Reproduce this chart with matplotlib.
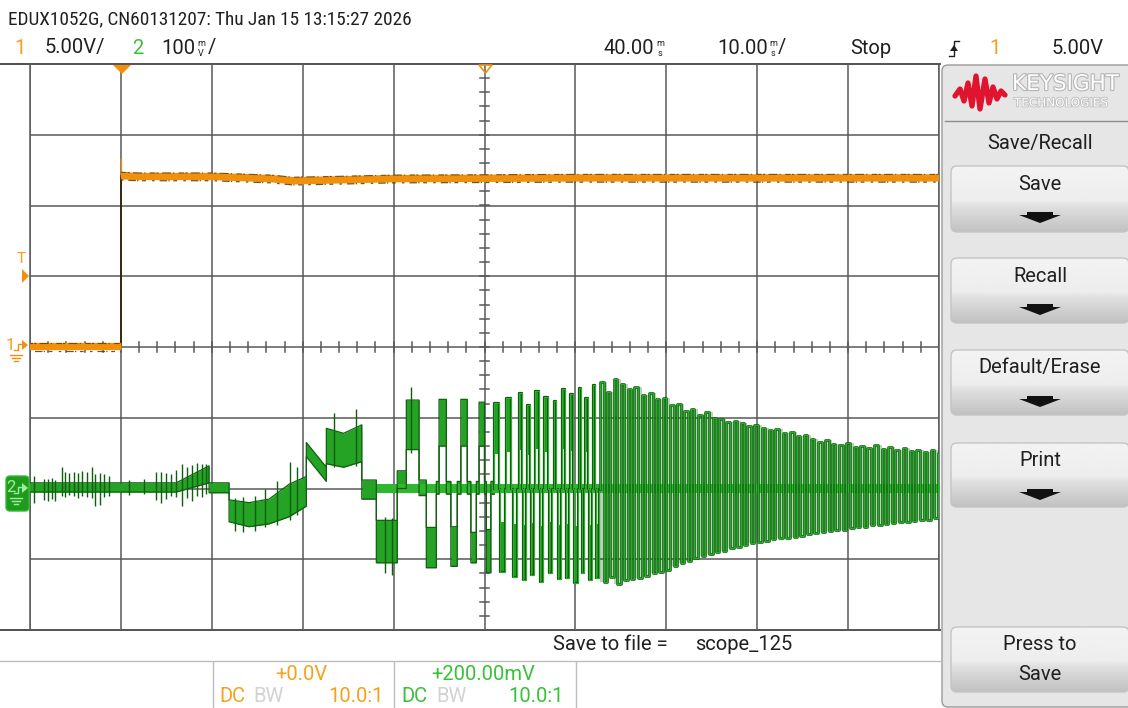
import numpy as np
import matplotlib
matplotlib.use('Agg')
import matplotlib.pyplot as plt
from matplotlib.patches import FancyBboxPatch, Polygon
import matplotlib.patheffects as pe

plt.rcParams['font.family'] = ['Roboto', 'DejaVu Sans']
NARROW = ['Roboto Condensed', 'DejaVu Sans']

W, H = 1128, 708

# scope settings
ch1_scale = 5.0       # V/div
ch2_scale = 100.0     # mV/div
ch2_offset = 200.0    # mV
t_scale = 10.0        # ms/div
t_delay = 40.0        # ms

# channel 1 (V)
ch1_low_t = [-10.3, 0.0]
ch1_low_v = [0.05, 0.05]
ch1_high_t = [0.0, 2.0, 10.0, 16.5, 19.0, 23.0, 30.0, 50.0, 70.0, 90.3]
ch1_high_v = [12.1, 12.05, 12.05, 11.9, 11.75, 11.8, 11.9, 11.95, 11.95, 11.95]
ch1_step_t = 0.0
ch1_overshoot = 13.3

# channel 2 (mV) - band of the trace, repeated times are jumps
band_t = [-10.3, 6.1, 9.7, 9.7, 11.9, 11.9, 14.1, 16.3, 18.5, 20.4, 20.4, 22.6,
          22.6, 24.5, 26.5, 26.5, 28.1, 28.1, 30.4, 30.4, 31.4, 31.4, 32.8,
          32.8, 33.6, 33.6, 34.7, 34.7, 35.0, 35.0, 35.8, 35.8, 36.3, 36.3,
          37.0, 37.0, 37.4, 37.4, 38.1, 38.1, 38.5, 38.5, 39.1, 39.1, 39.4,
          39.4, 40.0, 40.0, 40.2, 40.2, 40.7, 40.7, 41.1]
band_lo = [-5, -5, 8, -6, -6, -47, -54, -50, -40, -25, 45, 10,
           35, 30, 38, -15, -15, -105, -105, 0, 0, 55, 55,
           -10, -10, -112, -112, -8, -8, 60, 60, -8, -8, -110,
           -110, -8, -8, 60, 60, -8, -8, -105, -105, -8, -8,
           60, 60, -8, -8, -119, -119, -8, -8]
band_hi = [8, 8, 32, 8, 8, -16, -20, -15, 6, 17, 65, 30,
           85, 78, 90, 12, 12, -45, -45, 25, 25, 125, 125,
           12, 12, -55, -55, 10, 10, 126, 126, 10, 10, -54,
           -54, 10, 10, 126, 126, 10, 10, -62, -62, 10, 10,
           122, 122, 10, 10, -58, -58, 10, 10]

# noise spikes on channel 2 (mV)
spk_t = [-9.6, -8.5, -8.0, -7.6, -7.2, -6.5, -6.1, -5.7, -5.2, -4.7, -4.3,
         -3.7, -3.2, -2.8, -2.3, -1.9, -1.3, 0.9, 2.5, 3.9, 4.4, 5.0, 5.5,
         6.1, 6.7, 7.3, 7.8, 8.4, 8.9, 9.4, 12.6, 13.4, 14.7, 15.9, 17.2,
         18.6, 19.4, 23.4, 25.9, 29.0, 29.8, 31.9]
spk_lo = [-20, -16, -18, -15, -17, -10, -12, -9, -11, -13, -10,
          -12, -14, -25, -24, -12, -10, -9, -8, -16, -20, -15, -10,
          -12, -25, -14, -18, -10, -12, -8, -60, -62, -60, -55, -52,
          -45, -38, 30, 32, -120, -122, 50]
spk_hi = [17, 14, 14, 15, 12, 30, 23, 22, 24, 22, 25,
          24, 30, 20, 22, 20, 18, 12, 14, 24, 24, 22, 20,
          26, 34, 30, 33, 36, 34, 35, -14, -12, -10, 0, 10,
          38, 30, 107, 112, -40, -42, 143]

# oscillation, three-level cycles (rise time ms, top mV, bottom mV)
cyc3_t = [41.1, 42.4, 43.8, 44.7, 45.6, 46.6, 47.6, 48.5, 49.4, 50.4, 51.1, 51.9]
cyc3_hi = [121, 128, 135, 118, 138, 130, 124, 140, 133, 142, 128, 146]
cyc3_lo = [-118, -125, -130, -122, -132, -120, -128, -126, -134, -120, -130, -127]

# oscillation, full swing cycles
cyc_t = [52.7, 53.5, 54.2, 55.0, 55.8, 56.5, 57.3, 58.1, 58.9, 59.6,
         60.4, 61.2, 62.0, 62.7, 63.5, 64.3, 65.1, 65.8, 66.6, 67.4, 68.2,
         68.9, 69.7, 70.5, 71.3, 72.0, 72.8, 73.6, 74.4, 75.1, 75.9, 76.7,
         77.5, 78.2, 79.0, 79.8, 80.6, 81.3, 82.1, 82.9, 83.7, 84.4, 85.2,
         86.0, 86.8, 87.5, 88.3, 89.1, 89.9]
cyc_hi = [150, 136, 155, 148, 140, 144, 132, 135, 126, 128,
          118, 120, 110, 112, 104, 108, 100, 98, 94, 96, 92,
          88, 90, 85, 82, 84, 78, 80, 74, 76, 70, 66,
          68, 63, 62, 64, 58, 60, 57, 62, 56, 58, 55,
          57, 53, 54, 51, 55, 50]
cyc_lo = [-132, -125, -135, -130, -128, -126, -124, -120, -118, -115,
          -110, -105, -102, -98, -96, -92, -90, -88, -84, -82, -80,
          -77, -75, -74, -72, -70, -70, -68, -67, -65, -63, -62,
          -60, -58, -58, -56, -55, -54, -52, -51, -50, -49, -48,
          -48, -46, -45, -44, -42, -40]
zero_t = [28.1, 90.3]
zero_lo = [-6, -6]
zero_hi = [6, 6]

ORANGE_TXT = '#f5a11c'
ORANGE = '#f0900c'
ORANGE_DK = '#5a3800'
GREEN_TXT = '#36c236'
GREEN = '#24a324'
GREEN_DK = '#0f5f0f'
GRID = '#595959'
TXT = '#202020'

fig = plt.figure(figsize=(W / 100, H / 100), dpi=100)
fig.patch.set_facecolor('white')


def rect(x0, y0, x1, y1):
    return [x0 / W, 1 - y1 / H, (x1 - x0) / W, (y1 - y0) / H]


# background / panel layer in pixel coords
bg = fig.add_axes([0, 0, 1, 1])
bg.set_xlim(0, W)
bg.set_ylim(H, 0)
bg.axis('off')

panel = FancyBboxPatch((942, 65), 200, 642, boxstyle='round,pad=0,rounding_size=6',
                       fc='#e6e6e6', ec='#9a9a9a', lw=1.0)
bg.add_patch(panel)
bg.plot([945, 1128], [121, 121], color='#8c8c8c', lw=1.0)

# buttons
stops = np.array([0.0, 0.52, 0.6, 1.0])
shades = np.array([0.95, 0.93, 0.88, 0.76])
grad = np.interp(np.linspace(0, 1, 64), stops, shades)
grad_img = np.repeat(grad[:, None], 2, axis=1)
buttons = [(166, 232, ['Save'], True), (258, 323, ['Recall'], True),
           (350, 415, ['Default/Erase'], True), (443, 507, ['Print'], True),
           (627, 692, ['Press to', 'Save'], False)]
FS = 14.5
for y0, y1, label, arrow in buttons:
    box = FancyBboxPatch((951, y0), 178, y1 - y0, boxstyle='round,pad=0,rounding_size=6',
                         fc='none', ec='#c4c4c4', lw=1.0, zorder=3)
    bg.add_patch(box)
    im = bg.imshow(grad_img, extent=[951, 1129, y1, y0], cmap='gray', vmin=0, vmax=1,
                   aspect='auto', zorder=2, interpolation='bilinear')
    im.set_clip_path(box)
    bg.text(1040, y0 + 18, label[0], ha='center', va='center', fontsize=FS, color=TXT, zorder=4)
    if arrow:
        ya = y0 + 46
        bg.add_patch(Polygon([(1027, ya), (1053, ya), (1053, ya + 3), (1061, ya + 3),
                              (1040, ya + 11), (1019, ya + 3), (1027, ya + 3)],
                             closed=True, fc='#111111', ec='none', zorder=4))
    else:
        bg.text(1040, y0 + 48, label[1], ha='center', va='center', fontsize=FS, color=TXT, zorder=4)

bg.text(1040, 143, 'Save/Recall', ha='center', va='center', fontsize=FS, color=TXT)

# logo
logo_x = [955, 960, 964, 968, 972, 976, 980, 985, 989, 993, 997, 1001, 1005]
logo_y = [96, 89, 101, 83, 106, 76, 109, 79, 103, 87, 99, 91, 95]
bg.plot(logo_x, logo_y, color='#e0142e', lw=3.8, solid_joinstyle='round', solid_capstyle='round')
bg.text(1012, 84, 'KEYSIGHT', ha='left', va='center', fontsize=15.5, color='white',
        family='DejaVu Sans', path_effects=[pe.withStroke(linewidth=1.6, foreground='#b5b5b5')])
bg.text(1014, 103, 'TECHNOLOGIES', ha='left', va='center', fontsize=8.6, color='white',
        family='DejaVu Sans', path_effects=[pe.withStroke(linewidth=1.2, foreground='#bdbdbd')])

# lines below graticule
bg.plot([0, 940], [661, 661], color='#bdbdbd', lw=1.0)
for xs in [213, 394, 576]:
    bg.plot([xs, xs], [662, 708], color='#bdbdbd', lw=1.0)
bg.plot([0, 940], [64, 64], color='#404040', lw=1.3)
bg.plot([0, 940], [630, 630], color='#404040', lw=1.3)

# graticule
x_lo, x_hi = t_delay - 5 * t_scale, t_delay + 5 * t_scale
ax = fig.add_axes(rect(30, 64, 939, 630))
ax.set_facecolor('none')
ax.set_xlim(x_lo, x_hi)
ax.set_ylim(-4, 4)
ax.set_xticks(np.arange(x_lo, x_hi + 1, t_scale))
ax.set_yticks(np.arange(-4, 5, 1))
ax.grid(True, color=GRID, lw=1.1)
ax.tick_params(length=0, labelbottom=False, labelleft=False)
for s in ax.spines.values():
    s.set_color(GRID)
    s.set_linewidth(1.1)
for xm in np.arange(x_lo, x_hi + 0.01, t_scale / 5):
    ax.plot([xm, xm], [-0.07, 0.07], color=GRID, lw=1.1)
for ym in np.arange(-4, 4.01, 0.2):
    ax.plot([t_delay - 0.55, t_delay + 0.55], [ym, ym], color=GRID, lw=1.1)

# channel 1
ax1 = fig.add_axes(rect(30, 64, 939, 630))
ax1.set_facecolor('none')
ax1.axis('off')
ax1.set_xlim(x_lo, x_hi)
ax1.set_ylim(-4 * ch1_scale, 4 * ch1_scale)
ax1.plot([ch1_step_t, ch1_step_t], [ch1_low_v[-1], ch1_high_v[0]], color='#2a1c00', lw=1.2)
ax1.plot([ch1_step_t, ch1_step_t], [ch1_high_v[0], ch1_overshoot], color=ORANGE, lw=1.0)
for tt, vv in [(ch1_low_t, ch1_low_v), (ch1_high_t, ch1_high_v)]:
    ax1.plot(tt, vv, color=ORANGE, lw=5.3, solid_capstyle='butt')
    ax1.plot(tt, np.array(vv) + 0.25, color=ORANGE_DK, lw=0.8, alpha=0.8,
             dashes=(5, 1, 2, 3, 8, 2, 1, 4))
    ax1.plot(tt, np.array(vv) - 0.3, color=ORANGE_DK, lw=0.9, alpha=0.85,
             dashes=(2, 4, 6, 1, 1, 3, 3, 5))

# channel 2
ax2 = fig.add_axes(rect(30, 64, 939, 630))
ax2.set_facecolor('none')
ax2.axis('off')
ax2.set_xlim(x_lo, x_hi)
ax2.set_ylim(ch2_offset - 4 * ch2_scale, ch2_offset + 4 * ch2_scale)
ax2.vlines(spk_t, spk_lo, spk_hi, color=GREEN_DK, lw=1.0)
ax2.fill_between(band_t, band_lo, band_hi, color=GREEN, lw=0)
ax2.plot(band_t, band_lo, color=GREEN_DK, lw=0.9)
ax2.plot(band_t, band_hi, color=GREEN_DK, lw=0.9)

# three-level part: high, zero, low, zero
p3_t, p3_v = [], []
for i in range(len(cyc3_t)):
    t0 = cyc3_t[i]
    t1 = cyc3_t[i + 1] if i + 1 < len(cyc3_t) else cyc_t[0]
    d = t1 - t0
    hi, lo = cyc3_hi[i], cyc3_lo[i]
    p3_t += [t0, t0, t0 + 0.35 * d, t0 + 0.35 * d, t0 + 0.5 * d, t0 + 0.5 * d,
             t0 + 0.85 * d, t0 + 0.85 * d]
    p3_v += [0, hi, hi, 0, 0, lo, lo, 0]
    ax2.bar(t0, hi * 0.6, width=0.35 * d, bottom=hi * 0.4, align='edge', color=GREEN, lw=0)
    ax2.bar(t0 + 0.5 * d, lo * 0.6, width=0.35 * d, bottom=lo * 0.4, align='edge', color=GREEN, lw=0)
ax2.plot(p3_t, p3_v, color=GREEN_DK, lw=1.6)
ax2.plot(p3_t, p3_v, color='#30b030', lw=0.7)

# full swing part: high half period, low half period
ax2.fill_between(cyc_t, cyc_lo, cyc_hi, step='post', color=GREEN_DK, alpha=0.28, lw=0)
p_t, p_v = [cyc_t[0]], [0]
for i in range(len(cyc_t)):
    t0 = cyc_t[i]
    d = (cyc_t[i + 1] - t0) if i + 1 < len(cyc_t) else (t0 - cyc_t[i - 1])
    p_t += [t0, t0 + 0.5 * d, t0 + 0.5 * d, t0 + d]
    p_v += [cyc_hi[i], cyc_hi[i], cyc_lo[i], cyc_lo[i]]
    p_t.append(t0 + d)
    p_v.append(cyc_hi[i + 1] if i + 1 < len(cyc_t) else 0)
ax2.plot(p_t, p_v, color=GREEN_DK, lw=1.9)
ax2.plot(p_t, p_v, color='#2aac2a', lw=0.9)
ax2.fill_between(zero_t, zero_lo, zero_hi, color='#2fb82f', lw=0)

# overlay: markers and text
top = fig.add_axes([0, 0, 1, 1])
top.set_facecolor('none')
top.set_xlim(0, W)
top.set_ylim(H, 0)
top.axis('off')

top.add_patch(Polygon([(113, 65), (131, 65), (122, 74)], closed=True, fc=ORANGE, ec='none'))
top.add_patch(Polygon([(479, 65), (492, 65), (485.5, 73)], closed=True, fc='none', ec=ORANGE, lw=1.2))
top.text(21, 259, 'T', ha='center', va='center', fontsize=11, color=ORANGE_TXT)
top.add_patch(Polygon([(22, 269), (29, 276), (22, 283)], closed=True, fc=ORANGE, ec='none'))
top.text(10, 346, '1', ha='center', va='center', fontsize=12, color=ORANGE_TXT)
top.plot([14, 18, 18, 22], [350, 350, 344, 344], color=ORANGE, lw=1.0)
top.add_patch(Polygon([(22, 340), (28, 345), (22, 350)], closed=True, fc=ORANGE, ec='none'))
for yy, hw in [(355, 6), (358, 4), (361, 2)]:
    top.plot([16 - hw, 16 + hw], [yy, yy], color=ORANGE, lw=1.0)
top.add_patch(FancyBboxPatch((6, 476), 23, 35, boxstyle='round,pad=0,rounding_size=4',
                             fc='#1f9a1f', ec='#2fbf2f', lw=1.0))
top.text(11, 488, '2', ha='center', va='center', fontsize=12, color='#9cf09c')
top.plot([14, 18, 18, 22], [493, 493, 487, 487], color='#9cf09c', lw=1.0)
top.add_patch(Polygon([(22, 483), (28, 488), (22, 493)], closed=True, fc='#9cf09c', ec='none'))
for yy, hw in [(498, 6), (501, 4), (504, 2)]:
    top.plot([16 - hw, 16 + hw], [yy, yy], color='#9cf09c', lw=1.0)

top.text(8, 19, 'EDUX1052G, CN60131207: Thu Jan 15 13:15:27 2026', ha='left', va='center',
         fontsize=13.9, color=TXT, family=NARROW)
top.text(14, 48, '1', ha='left', va='center', fontsize=FS, color=ORANGE_TXT)
top.text(45, 48, '5.00V/', ha='left', va='center', fontsize=FS, color=TXT)
top.text(132, 48, '2', ha='left', va='center', fontsize=FS, color=GREEN_TXT)
top.text(195, 48, '100', ha='right', va='center', fontsize=FS, color=TXT)
top.text(201, 43, 'm', ha='center', va='center', fontsize=6.5, color=TXT)
top.text(201, 53, 'V', ha='center', va='center', fontsize=6.5, color=TXT)
top.text(208, 48, '/', ha='left', va='center', fontsize=FS, color=TXT)
top.text(654, 48, '40.00', ha='right', va='center', fontsize=FS, color=TXT)
top.text(660, 43, 'm', ha='center', va='center', fontsize=6.5, color=TXT)
top.text(660, 53, 's', ha='center', va='center', fontsize=6.5, color=TXT)
top.text(768, 48, '10.00', ha='right', va='center', fontsize=FS, color=TXT)
top.text(773, 43, 'm', ha='center', va='center', fontsize=6.5, color=TXT)
top.text(773, 53, 's', ha='center', va='center', fontsize=6.5, color=TXT)
top.text(778, 48, '/', ha='left', va='center', fontsize=FS, color=TXT)
top.text(850, 48, 'Stop', ha='left', va='center', fontsize=FS, color=TXT)
top.plot([949, 954, 954, 959], [56, 56, 41, 41], color=TXT, lw=1.0)
top.add_patch(Polygon([(950, 51), (958, 51), (954, 45)], closed=True, fc=TXT, ec='none'))
top.text(989, 48, '1', ha='left', va='center', fontsize=FS, color=ORANGE_TXT)
top.text(1104, 48, '5.00V', ha='right', va='center', fontsize=FS, color=TXT)

top.text(553, 645, 'Save to file =', ha='left', va='center', fontsize=FS, color=TXT)
top.text(792, 645, 'scope_125', ha='right', va='center', fontsize=FS, color=TXT)

top.text(301, 674, '+0.0V', ha='center', va='center', fontsize=FS, color=ORANGE_TXT)
top.text(219, 696, 'DC', ha='left', va='center', fontsize=FS, color=ORANGE_TXT)
top.text(253, 696, 'BW', ha='left', va='center', fontsize=FS, color='#d2d2d2')
top.text(384, 696, '10.0:1', ha='right', va='center', fontsize=FS, color=ORANGE_TXT)
top.text(483, 674, '+200.00mV', ha='center', va='center', fontsize=FS, color=GREEN_TXT)
top.text(401, 696, 'DC', ha='left', va='center', fontsize=FS, color=GREEN_TXT)
top.text(436, 696, 'BW', ha='left', va='center', fontsize=FS, color='#d2d2d2')
top.text(564, 696, '10.0:1', ha='right', va='center', fontsize=FS, color=GREEN_TXT)

fig.savefig('out.png', dpi=100)
